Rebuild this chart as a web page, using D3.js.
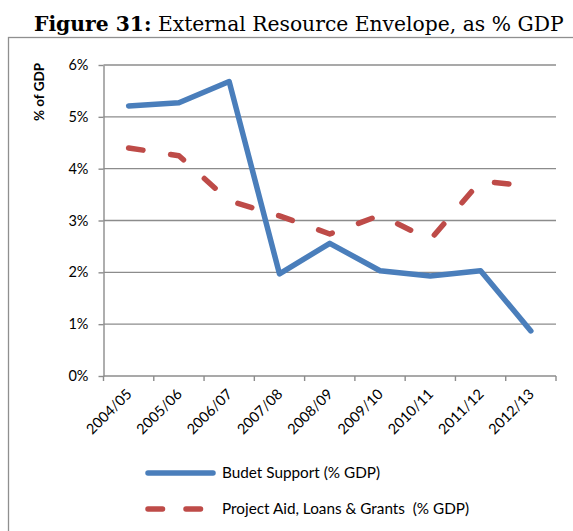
<!DOCTYPE html>
<html>
<head>
<meta charset="utf-8">
<script src="https://cdn.jsdelivr.net/npm/d3@7"></script>
<style>
  html, body { margin: 0; padding: 0; background: #fff; }
  svg { display: block; }
  .legend text { white-space: pre; }
</style>
</head>
<body>
<svg id="chart" width="573" height="531"></svg>
<script>
// Fiscal years on the category axis
const years = ["2004/05", "2005/06", "2006/07", "2007/08", "2008/09",
               "2009/10", "2010/11", "2011/12", "2012/13"];

// Budget support, % of GDP
const budgetSupport = [5.21, 5.27, 5.68, 1.97, 2.56, 2.03, 1.93, 2.03, 0.87];

// Project aid, loans & grants, % of GDP
const projectAid = [4.40, 4.25, 3.38, 3.09, 2.74, 3.10, 2.63, 3.76, 3.66];

// Value-axis ticks (percent)
const yTicks = [0, 1, 2, 3, 4, 5, 6];

const seriesNames = ["Budet Support (% GDP)", "Project Aid, Loans & Grants  (% GDP)"];

const svg = d3.select("#chart");
const sansFont = "Lato, 'Open Sans', sans-serif";

// Outer frame of the chart object
svg.append("rect")
  .attr("x", 8.5).attr("y", 37.5)
  .attr("width", 600).attr("height", 520)
  .attr("fill", "#fff")
  .attr("stroke", "#8f8f8f").attr("stroke-width", 1.3);

// Caption above the frame
const title = svg.append("text")
  .attr("x", 34).attr("y", 31)
  .attr("font-family", "'DejaVu Serif', 'Liberation Serif', serif")
  .attr("font-size", 20)
  .attr("fill", "#000");
title.append("tspan").attr("font-weight", "bold").text("Figure 31:");
title.append("tspan").text(" External Resource Envelope, as % GDP");
{
  const w = title.node().getComputedTextLength();
  title.attr("font-size", 20 * 530 / w);
}

// Plot area
const plot = { left: 103.5, right: 556, top: 65, bottom: 376 };

const x = d3.scaleBand()
  .domain(years)
  .range([plot.left, plot.right]);

const y = d3.scaleLinear()
  .domain([0, 6])
  .range([plot.bottom, plot.top]);

const g = svg.append("g");

// Horizontal gridlines
g.append("g")
  .selectAll("line")
  .data(yTicks.filter(d => d > 0))
  .join("line")
  .attr("x1", plot.left).attr("x2", plot.right)
  .attr("y1", d => y(d)).attr("y2", d => y(d))
  .attr("stroke", "#8c8c8c").attr("stroke-width", 1.4);

// Value axis
const yAxis = g.append("g")
  .attr("transform", `translate(${plot.left},0)`)
  .call(d3.axisLeft(y).tickValues(yTicks).tickFormat(d => d + "%")
        .tickSize(5).tickSizeOuter(0).tickPadding(10));
yAxis.select(".domain").attr("stroke", "#8c8c8c").attr("stroke-width", 1.4);
yAxis.selectAll(".tick line").attr("stroke", "#8c8c8c").attr("stroke-width", 1.4);
yAxis.selectAll(".tick text")
  .attr("font-family", sansFont).attr("font-size", 14.5).attr("fill", "#000");

// Category axis: ticks sit on the band boundaries
const boundaries = years.map(d => x(d)).concat([x(years[years.length - 1]) + x.bandwidth()]);
const xAxisG = g.append("g");
xAxisG.append("line")
  .attr("x1", plot.left).attr("x2", plot.right)
  .attr("y1", plot.bottom).attr("y2", plot.bottom)
  .attr("stroke", "#8c8c8c").attr("stroke-width", 1.4);
xAxisG.selectAll("line.tick")
  .data(boundaries)
  .join("line")
  .attr("class", "tick")
  .attr("x1", d => d).attr("x2", d => d)
  .attr("y1", plot.bottom).attr("y2", plot.bottom + 5)
  .attr("stroke", "#8c8c8c").attr("stroke-width", 1.4);
xAxisG.selectAll("text")
  .data(years)
  .join("text")
  .attr("transform", d => `translate(${x(d) + x.bandwidth() / 2 + 4},${plot.bottom + 19}) rotate(-45)`)
  .attr("text-anchor", "end")
  .attr("font-family", sansFont).attr("font-size", 14.5).attr("fill", "#000")
  .text(d => d);

// Axis title
svg.append("text")
  .attr("transform", "translate(44,92) rotate(-90)")
  .attr("text-anchor", "middle")
  .attr("font-family", sansFont).attr("font-size", 13.5).attr("font-weight", "bold")
  .attr("fill", "#000")
  .text("% of GDP");

// Series lines
const cx = d => x(d) + x.bandwidth() / 2;
const line = d3.line()
  .x((d, i) => cx(years[i]))
  .y(d => y(d));

const styles = [
  { data: budgetSupport, color: "#4a7ebb", dash: null },
  { data: projectAid, color: "#be4b48", dash: "14.5,28" }
];

styles.slice().reverse().forEach(s => {
  g.append("path")
    .datum(s.data)
    .attr("d", line)
    .attr("fill", "none")
    .attr("stroke", s.color)
    .attr("stroke-width", 5.5)
    .attr("stroke-linejoin", "round")
    .attr("stroke-linecap", "round")
    .attr("stroke-dasharray", s.dash);
});

// Legend
const legend = svg.append("g").attr("class", "legend");
const legendY = [473, 509];
styles.forEach((s, i) => {
  legend.append("line")
    .attr("x1", 148).attr("x2", 213)
    .attr("y1", legendY[i]).attr("y2", legendY[i])
    .attr("stroke", s.color).attr("stroke-width", 5.5)
    .attr("stroke-linecap", "round")
    .attr("stroke-dasharray", i === 1 ? "14.5,23.5" : null);
  legend.append("text")
    .attr("x", 222).attr("y", legendY[i])
    .attr("dy", "0.35em")
    .attr("font-family", sansFont).attr("font-size", 15.3).attr("fill", "#000")
    .text(seriesNames[i]);
});
</script>
</body>
</html>
